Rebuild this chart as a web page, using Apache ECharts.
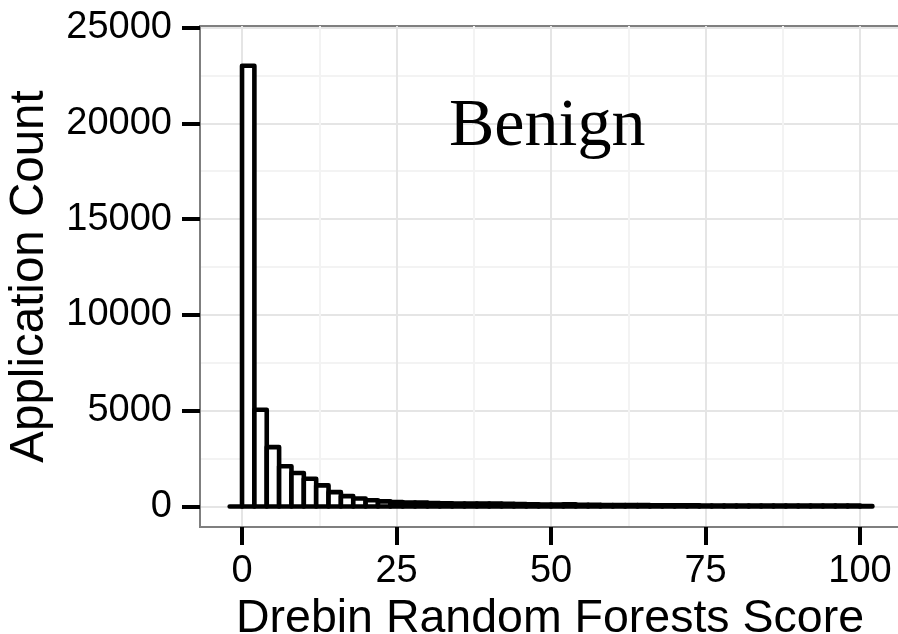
<!DOCTYPE html>
<html>
<head>
<meta charset="utf-8">
<script src="https://cdn.jsdelivr.net/npm/echarts@6/dist/echarts.min.js"></script>
<style>
  html, body { margin: 0; padding: 0; background: #fff; }
</style>
</head>
<body>
<div id="score_chart" style="width:898px;height:634px;"></div>
<script type="text/javascript">
    // histogram bins (left edge, width 2)
    var binLeft = [-2, 0, 2, 4, 6, 8, 10, 12, 14, 16, 18, 20, 22, 24, 26, 28, 30, 32, 34, 36,
        38, 40, 42, 44, 46, 48, 50, 52, 54, 56, 58, 60, 62, 64, 66, 68, 70, 72, 74, 76,
        78, 80, 82, 84, 86, 88, 90, 92, 94, 96, 98, 100];
    var binWidth = 2;
    // application count per bin
    var binCounts = [0, 23000, 5050, 3100, 2100, 1750, 1450, 1100, 750, 540, 420, 330, 270, 230, 210, 200, 185, 170, 160, 150,
        160, 150, 140, 125, 115, 105, 100, 110, 90, 85, 80, 75, 70, 70, 65, 65, 60, 60, 55, 55,
        55, 50, 50, 50, 50, 45, 45, 45, 45, 45, 45, 20];
    // axis ticks
    var xTicks = [0, 25, 50, 75, 100];
    var xMinorTicks = [12.5, 37.5, 62.5, 87.5];
    var yTicks = [0, 5000, 10000, 15000, 20000, 25000];
    var yMinorTicks = [2500, 7500, 12500, 17500, 22500];

    var histData = [];
    for (var i = 0; i < binLeft.length; i++) {
        histData.push([binLeft[i], binLeft[i] + binWidth, binCounts[i]]);
    }

    var chart = echarts.init(document.getElementById('score_chart'));
    var labelFont = 'Liberation Sans, Arial, sans-serif';
    var xRange = {min: -6.8, max: 106.47};
    var yRange = {min: -1070, max: 25078};

    var options = {
        animation: false,
        backgroundColor: '#fff',
        title: {
            text: 'Benign',
            left: 444,
            top: 88,
            textStyle: {
                fontFamily: 'Liberation Serif, Times New Roman, serif',
                fontSize: 68,
                fontWeight: 'normal',
                color: '#000'
            }
        },
        grid: {
            left: 200,
            top: 26,
            right: -2,
            bottom: 107,
            outerBoundsMode: 'none',
            containLabel: false,
            show: true,
            borderColor: '#7f7f7f',
            borderWidth: 2,
            backgroundColor: '#fff'
        },
        xAxis: [{
            type: 'value',
            min: xRange.min,
            max: xRange.max,
            name: 'Drebin Random Forests Score',
            nameLocation: 'middle',
            nameGap: 64,
            nameTextStyle: {fontFamily: labelFont, fontSize: 46.5, color: '#000'},
            axisLine: {show: true, onZero: false, lineStyle: {color: '#7f7f7f', width: 2}},
            axisTick: {show: true, length: 18, lineStyle: {color: '#000', width: 4}, customValues: xTicks},
            axisLabel: {fontFamily: labelFont, fontSize: 38, color: '#000', margin: 26, customValues: xTicks},
            splitLine: {show: true, lineStyle: {color: '#e5e5e5', width: 2}}
        }, {
            type: 'value',
            min: xRange.min,
            max: xRange.max,
            position: 'bottom',
            axisLine: {show: false, onZero: false},
            axisTick: {show: false, customValues: xMinorTicks},
            axisLabel: {show: false, customValues: xMinorTicks},
            splitLine: {show: true, lineStyle: {color: '#f3f3f3', width: 2}}
        }],
        yAxis: [{
            type: 'value',
            min: yRange.min,
            max: yRange.max,
            name: 'Application Count',
            nameLocation: 'middle',
            nameGap: 146,
            nameTextStyle: {fontFamily: labelFont, fontSize: 47.5, color: '#000'},
            axisLine: {show: true, onZero: false, lineStyle: {color: '#7f7f7f', width: 2}},
            axisTick: {show: true, length: 18, lineStyle: {color: '#000', width: 4}, customValues: yTicks},
            axisLabel: {
                fontFamily: labelFont, fontSize: 38, color: '#000', margin: 28, customValues: yTicks,
                formatter: function (v) { return String(v); }
            },
            splitLine: {show: true, lineStyle: {color: '#e5e5e5', width: 2}}
        }, {
            type: 'value',
            min: yRange.min,
            max: yRange.max,
            position: 'left',
            axisLine: {show: false, onZero: false},
            axisTick: {show: false, customValues: yMinorTicks},
            axisLabel: {show: false, customValues: yMinorTicks},
            splitLine: {show: true, lineStyle: {color: '#f3f3f3', width: 2}}
        }],
        series: [{
            type: 'custom',
            xAxisIndex: 0,
            yAxisIndex: 0,
            clip: false,
            data: histData,
            encode: {x: [0, 1], y: 2},
            renderItem: function (params, api) {
                var p0 = api.coord([api.value(0), api.value(2)]);
                var p1 = api.coord([api.value(1), 0]);
                return {
                    type: 'rect',
                    shape: {x: p0[0], y: p0[1], width: p1[0] - p0[0], height: p1[1] - p0[1]},
                    style: {fill: '#fff', stroke: '#000', lineWidth: 4.6, lineCap: 'round', lineJoin: 'round'}
                };
            }
        }]
    };
    chart.setOption(options);
</script>
</body>
</html>
